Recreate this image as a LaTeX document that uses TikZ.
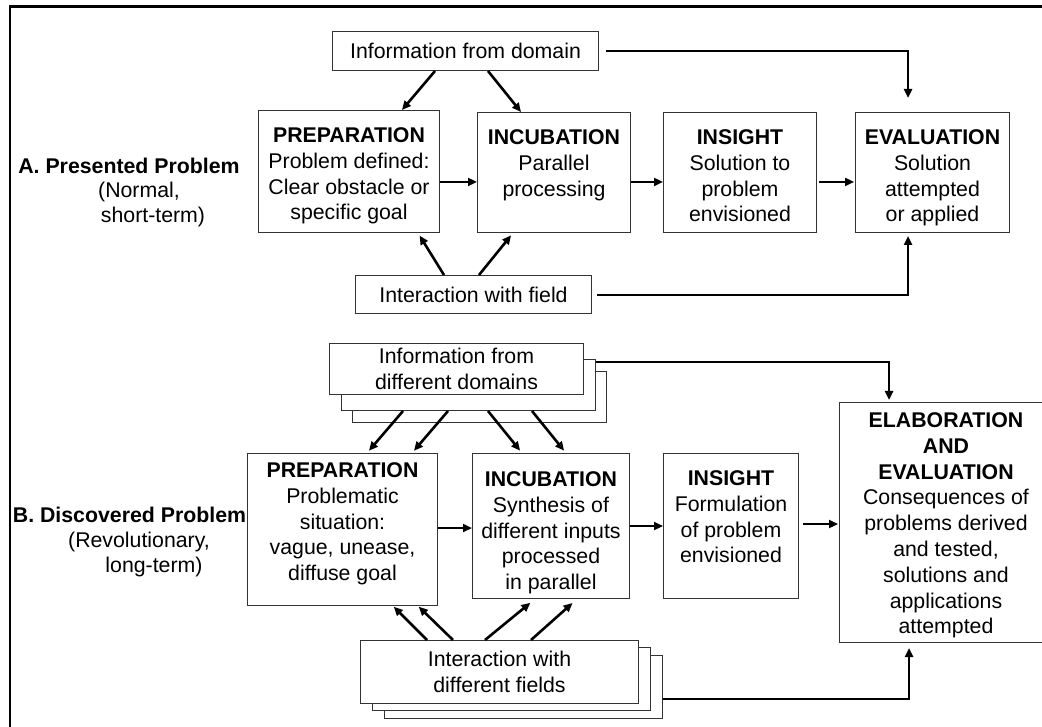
\documentclass[tikz,border=0pt]{standalone}
\usepackage{fontspec}
\setmainfont{Liberation Sans}
\usetikzlibrary{arrows.meta}
\pgfdeclarelayer{background}
\pgfsetlayers{background,main}
\begin{document}
\begin{tikzpicture}[x=1pt,y=-1pt,
  every node/.style={font=\fontsize{21.3}{25.8}\selectfont, inner sep=0pt, align=center},
  box/.style={draw=black!80, line width=1pt, fill=white, anchor=north west},
  txt/.style={anchor=north},
  arr/.style={line width=2.6pt, -{Triangle[length=9pt,width=8pt]}}]
\useasboundingbox (0,0) rectangle (1042,727);
\clip (0,0) rectangle (1042,727);

% outer frame
\draw[line width=2.4pt] (10,6.5) rectangle (1070,760);

% row labels
\node[font=\fontsize{21.3}{25.8}\selectfont\bfseries] (labA) at (129,166) {A. Presented Problem};
\node (labA2) at (139,192) {(Normal,};
\node (labA3) at (153,217) {short-term)};
\node[font=\fontsize{21.3}{25.8}\selectfont\bfseries] (labB) at (129.5,515) {B. Discovered Problem};
\node (labB2) at (139,542) {(Revolutionary,};
\node (labB3) at (154,567) {long-term)};

% ---------- A: presented problem ----------
\node[box, minimum width=266, minimum height=39] (infoA) at (332,31) {Information from domain};
\node[box, minimum width=236, minimum height=38] (fieldA) at (355,275) {Interaction with field};

\node[box, minimum width=181, minimum height=122] (prepA) at (258,110) {};
\node[box, minimum width=153, minimum height=120] (incA) at (477,112) {};
\node[box, minimum width=153, minimum height=120] (insA) at (663,112) {};
\node[box, minimum width=154, minimum height=120] (evalA) at (855,112) {};

\node[txt] (prepAt) at ([yshift=-17.4pt]prepA.north)
  {\textbf{PREPARATION}\\Problem defined:\\Clear obstacle or\\specific goal};
\node[txt] (incAt) at ([yshift=-17.4pt]incA.north)
  {\textbf{INCUBATION}\\Parallel\\processing};
\node[txt] (insAt) at ([yshift=-17.4pt]insA.north)
  {\textbf{INSIGHT}\\Solution to\\problem\\envisioned};
\node[txt] (evalAt) at ([yshift=-17.4pt]evalA.north)
  {\textbf{EVALUATION}\\Solution\\attempted\\or applied};

% ---------- B: discovered problem ----------
\node[box, minimum width=254, minimum height=51] (infoB3) at (352,371) {};
\node[box, minimum width=254, minimum height=51] (infoB2) at (341,359) {};
\node[box, minimum width=254, minimum height=51] (infoB) at (329,343)
  {Information from\\different domains};

\node[box, minimum width=278, minimum height=63] (interB3) at (384,655) {};
\node[box, minimum width=278, minimum height=63] (interB2) at (372,647) {};
\node[box, minimum width=278, minimum height=63] (interB) at (360,640)
  {Interaction with\\different fields};

\node[box, minimum width=190, minimum height=152] (prepB) at (247,453) {};
\node[box, minimum width=157, minimum height=145] (incB) at (472,453) {};
\node[box, minimum width=135, minimum height=145] (insB) at (663,453) {};
\node[box, minimum width=213, minimum height=240] (elab) at (839,402) {};

\node[txt] (prepBt) at ([yshift=-9.4pt]prepB.north)
  {\textbf{PREPARATION}\\Problematic\\situation:\\vague, unease,\\diffuse goal};
\node[txt] (incBt) at ([yshift=-18.4pt]incB.north)
  {\textbf{INCUBATION}\\Synthesis of\\different inputs\\processed\\in parallel};
\node[txt] (insBt) at ([yshift=-17.4pt]insB.north)
  {\textbf{INSIGHT}\\Formulation\\of problem\\envisioned};
\node[txt] (elabt) at ([yshift=-10.4pt]elab.north)
  {\textbf{ELABORATION}\\\textbf{AND}\\\textbf{EVALUATION}\\Consequences of\\problems derived\\and tested,\\solutions and\\applications\\attempted};

% ---------- connectors A ----------
\draw[arr] (infoA.south -| 435,0) -- (prepA.north -| 402,0);
\draw[arr] (infoA.south -| 488,0) -- (incA.north -| 521,0);
\draw[arr, shorten <=7pt, shorten >=14pt] (infoA.east |- 0,51) -| (evalA.north -| 908,0);

\draw[arr] (prepA.east |- 0,182) -- (incA.west |- 0,182);
\draw[arr] (incA.east |- 0,182) -- (insA.west |- 0,182);
\draw[arr, shorten <=2pt, shorten >=1pt] (insA.east |- 0,182) -- (evalA.west |- 0,182);

\draw[arr, shorten >=3pt] (fieldA.north -| 444,0) -- (prepA.south -| 418,0);
\draw[arr, shorten >=3pt] (fieldA.north -| 479,0) -- (incA.south -| 513,0);
\draw[arr, shorten <=5pt, shorten >=3pt] (fieldA.east |- 0,295) -| (evalA.south -| 908,0);

% ---------- connectors B ----------
\begin{pgfonlayer}{background}
\draw[arr, shorten >=2pt] (infoB.east |- 0,362) -| (elab.north -| 889,0);
\draw[arr, shorten >=5pt] (interB.east |- 0,699) -| (elab.south -| 909,0);
\end{pgfonlayer}

\draw[arr, shorten >=3pt] (infoB2.south -| 403,0) -- (prepB.north -| 367,0);
\draw[arr, shorten >=3pt] (infoB2.south -| 448,0) -- (prepB.north -| 412,0);
\draw[arr, shorten >=3pt] (infoB2.south -| 488,0) -- (incB.north -| 522,0);
\draw[arr, shorten >=3pt] (infoB2.south -| 532,0) -- (incB.north -| 566,0);

\draw[arr] (prepB.east |- 0,528) -- (incB.west |- 0,528);
\draw[arr] (incB.east |- 0,526) -- (insB.west |- 0,526);
\draw[arr, shorten <=4pt, shorten >=1pt] (insB.east |- 0,524) -- (elab.west |- 0,524);

\draw[arr, shorten >=1pt] (interB.north -| 427,0) -- (prepB.south -| 393,0);
\draw[arr, shorten >=1pt] (interB.north -| 453,0) -- (prepB.south -| 418,0);
\draw[arr, shorten >=6pt] (interB.north -| 485,0) -- (incB.south -| 535,0);
\draw[arr, shorten >=6pt] (interB.north -| 531,0) -- (incB.south -| 577,0);
\end{tikzpicture}
\end{document}
